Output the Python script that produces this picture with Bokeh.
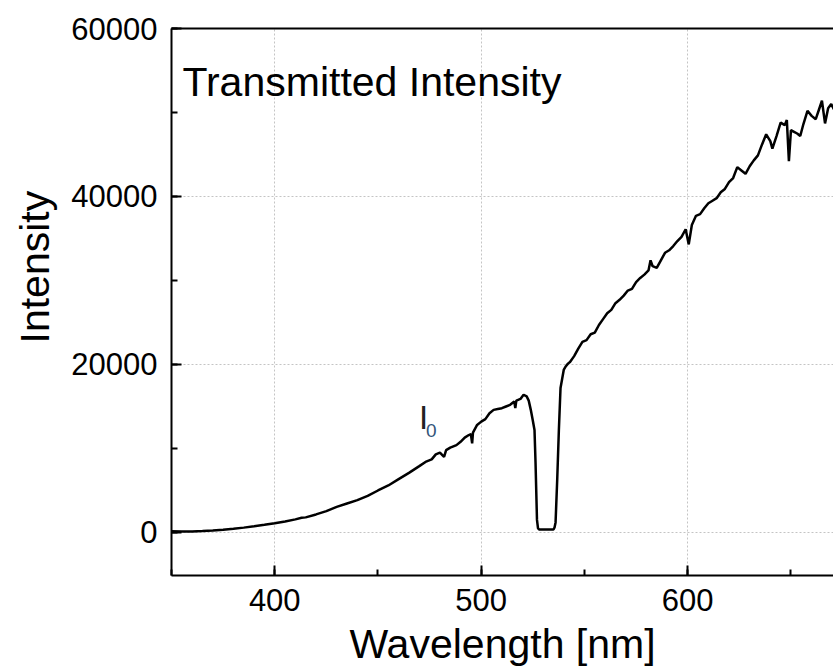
import math
from bokeh.plotting import figure
from bokeh.models import Range1d, SingleIntervalTicker, LinearAxis, FixedTicker, Label, Title
from bokeh.embed import file_html
from bokeh.resources import INLINE

wavelength = [350, 355, 360, 365, 370, 375, 380, 385, 390, 395, 400, 405, 410, 413, 415,
              420, 425, 430, 435, 440, 445, 450, 455, 460, 465, 470, 473, 476, 478, 480,
              482, 483, 485, 488, 490, 492, 494, 495, 495.6, 496, 498, 500, 502, 504, 506,
              508, 510, 512, 514, 516, 516.5, 517, 519, 520.5, 522, 523, 524, 525, 525.8,
              526.3, 527, 527.5, 528, 535, 535.5, 536, 536.8, 537.6, 538.4, 539.2, 540, 541,
              542, 543, 545, 547, 549, 551, 553, 555, 557, 559, 561, 563, 565, 567, 569, 571,
              573, 575, 577, 579, 581, 582, 583, 585, 587, 589, 591, 593, 595, 597, 599,
              600.5, 602, 604, 606, 608, 610, 612, 614, 616, 618, 620, 622, 624, 626, 628,
              630, 632, 634, 636, 638, 640, 641, 643, 645, 647, 648, 649, 650, 651.5, 653,
              654.5, 656, 658, 660, 662, 663.5, 665, 666.5, 668, 669.5, 671]
intensity = [150, 120, 130, 170, 230, 320, 440, 580, 740, 920, 1110, 1320, 1560, 1750, 1800,
             2150, 2550, 3050, 3450, 3850, 4350, 5000, 5600, 6350, 7100, 7900, 8400, 8700, 9300, 9500,
             9000, 9800, 10100, 10400, 10800, 11300, 11600, 11700, 10600, 11900, 12800, 13200, 13500, 14200, 14600,
             14700, 14800, 15000, 15200, 15600, 14800, 15700, 15900, 16400, 16200, 15700, 14600, 13300, 12200,
             8300, 1500, 500, 350, 350, 600, 1200, 6300, 12200, 17200, 18300, 19400, 19800,
             20100, 20300, 21000, 21900, 22700, 22900, 23600, 23800, 24700, 25400, 26100, 26500, 27300, 27700, 28200, 28800,
             29000, 29800, 30300, 30700, 31200, 32400, 31700, 31500, 32400, 33300, 33600, 34100, 34700, 35200, 36100,
             34300, 36600, 37700, 37900, 38600, 39200, 39500, 39800, 40500, 40900, 41700, 42200, 43500, 43100, 42700,
             43600, 44300, 44900, 46200, 47400, 46600, 45700, 47200, 48800, 48500, 49100, 44200, 47900, 47700, 47500,
             47200, 48600, 50200, 49600, 49200, 50300, 51400, 48700, 50500, 51000, 50300]

x_ticks_interval = 100
y_ticks_interval = 20000

FONT = "Liberation Sans"

p = figure(width=833, height=669, output_backend="svg", toolbar_location=None,
           x_range=Range1d(350, 670.6), y_range=Range1d(-5120, 60000),
           min_border_left=171, min_border_right=0, min_border_top=28, min_border_bottom=93,
           x_axis_label="Wavelength [nm]")
p.outline_line_color = None
p.background_fill_color = "white"
p.border_fill_color = "white"

p.line(wavelength, intensity, line_color="black", line_width=2.5)

for ax, interval in ((p.xaxis[0], x_ticks_interval), (p.yaxis[0], y_ticks_interval)):
    ax.ticker = SingleIntervalTicker(interval=interval, num_minor_ticks=2)
    ax.axis_line_width = 2
    ax.axis_line_color = "black"
    ax.major_tick_in = 10
    ax.major_tick_out = 0
    ax.minor_tick_in = 6
    ax.minor_tick_out = 0
    ax.major_tick_line_width = 2
    ax.minor_tick_line_width = 2
    ax.major_label_text_font = FONT
    ax.major_label_text_font_size = "31px"
    ax.major_label_text_color = "black"
    ax.axis_label_text_font = FONT
    ax.axis_label_text_font_size = "41px"
    ax.axis_label_text_font_style = "normal"
    ax.axis_label_text_color = "black"

p.xaxis[0].major_label_standoff = 13
p.xaxis[0].axis_label_standoff = 7
p.yaxis[0].major_label_standoff = 14

top = LinearAxis(ticker=FixedTicker(ticks=[]), axis_line_width=2, axis_line_color="black",
                 major_tick_in=0, major_tick_out=0, minor_tick_in=0, minor_tick_out=0)
p.add_layout(top, "above")

for g in (p.xgrid[0], p.ygrid[0]):
    g.grid_line_color = "#c4c4c4"
    g.grid_line_dash = "2 2"
    g.grid_line_width = 1

ytitle = Title(text="Intensity", align="left", offset=232, standoff=18,
               vertical_align="top",
               text_font=FONT, text_font_size="41px", text_font_style="normal",
               text_color="black")
p.add_layout(ytitle, "left")

title = Label(x=355.3, y=53580, text="Transmitted Intensity", text_align="left",
              text_baseline="alphabetic", text_font=FONT, text_font_size="41px", text_color="black")
p.add_layout(title)

i_lab = Label(x=469.9, y=13720, text="I", text_align="left", text_baseline="alphabetic",
              text_font=FONT, text_font_size="33px", text_color="#222222")
sub_lab = Label(x=473.3, y=12170, text="0", text_align="left", text_baseline="alphabetic",
                text_font=FONT, text_font_size="19px", text_color="#34557a")
p.add_layout(i_lab)
p.add_layout(sub_lab)

open("out.html", "w").write(file_html(p, INLINE))
